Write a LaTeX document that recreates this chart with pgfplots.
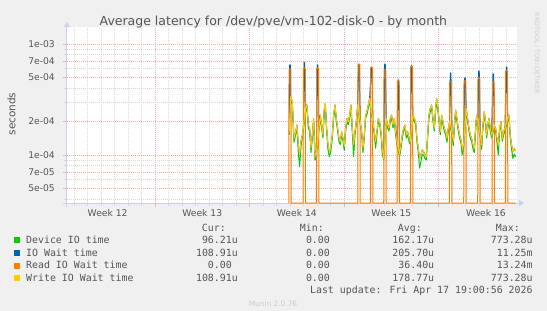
\documentclass[border=0pt]{standalone}
\usepackage{pgfplots}
\pgfplotsset{compat=1.18}
\usepackage{pgfplotstable}
\usepackage{fontspec}
\setmainfont{DejaVu Sans}
\newfontfamily\monofont{DejaVu Sans Mono}
\definecolor{bg}{HTML}{F0F0F0}
\definecolor{txt}{HTML}{555555}
\definecolor{mgrid}{HTML}{F0B0B0}
\definecolor{mingrid}{HTML}{D8D8D8}
\definecolor{axcol}{RGB}{204,208,240}
\definecolor{cdev}{HTML}{00CC00}
\definecolor{ciow}{HTML}{0066B3}
\definecolor{crd}{HTML}{FF8000}
\definecolor{cwr}{HTML}{FFCC00}
\definecolor{faint}{HTML}{CCCCCC}

% x = days since Monday of week 12; y = seconds
\pgfplotstableread{
d w dev
16.94 1.62e-4 1.52e-4
17.044 3.35e-4 3.15e-4
17.168 3.02e-4 2.84e-4
17.291 1.41e-4 1.30e-4
17.414 1.62e-4 1.52e-4
17.513 1.86e-4 1.75e-4
17.612 1.23e-4 1.05e-4
17.710 1.00e-4 7.85e-5
17.809 1.32e-4 1.20e-4
17.908 1.51e-4 1.42e-4
18.007 1.86e-4 1.75e-4
18.155 2.63e-4 2.47e-4
18.253 2.82e-4 2.65e-4
18.352 1.86e-4 1.75e-4
18.451 1.74e-4 1.64e-4
18.549 1.15e-4 1.05e-4
18.648 1.51e-4 1.42e-4
18.747 2.14e-4 2.01e-4
18.845 9.65e-5 9.00e-5
18.944 1.03e-4 9.50e-5
19.141 1.74e-4 1.64e-4
19.240 2.29e-4 2.15e-4
19.339 1.86e-4 1.75e-4
19.437 1.51e-4 1.42e-4
19.536 2.63e-4 2.47e-4
19.610 2.92e-4 2.74e-4
19.709 1.74e-4 1.64e-4
19.807 1.23e-4 1.12e-4
19.906 1.07e-4 9.65e-5
20.005 1.15e-4 1.05e-4
20.128 1.51e-4 1.42e-4
20.227 2.29e-4 2.15e-4
20.326 2.82e-4 2.65e-4
20.424 2.14e-4 2.01e-4
20.523 1.74e-4 1.64e-4
20.622 1.41e-4 1.33e-4
20.720 1.32e-4 1.24e-4
20.819 1.62e-4 1.52e-4
20.918 1.41e-4 1.33e-4
21.016 1.19e-4 1.10e-4
21.115 1.74e-4 1.64e-4
21.214 2.14e-4 2.01e-4
21.312 2.00e-4 1.88e-4
21.411 2.29e-4 2.15e-4
21.510 2.82e-4 2.65e-4
21.608 1.74e-4 1.60e-4
21.707 1.23e-4 9.65e-5
21.806 1.62e-4 1.52e-4
21.904 2.00e-4 1.88e-4
22.003 2.82e-4 2.65e-4
22.200 2.00e-4 1.88e-4
22.299 1.62e-4 1.52e-4
22.398 1.15e-4 1.05e-4
22.496 1.51e-4 1.42e-4
22.595 2.29e-4 2.15e-4
22.694 2.46e-4 2.31e-4
22.793 2.82e-4 2.65e-4
22.891 3.24e-4 3.05e-4
23.138 2.00e-4 1.88e-4
23.237 1.62e-4 1.52e-4
23.335 1.32e-4 1.15e-4
23.434 1.62e-4 1.52e-4
23.533 2.14e-4 2.01e-4
23.631 2.00e-4 1.88e-4
23.730 1.62e-4 1.52e-4
23.829 1.15e-4 1.02e-4
23.927 9.30e-5 9.00e-5
24.124 2.14e-4 2.01e-4
24.223 1.86e-4 1.75e-4
24.322 1.74e-4 1.64e-4
24.421 2.14e-4 2.01e-4
24.519 2.29e-4 2.15e-4
24.618 1.86e-4 1.75e-4
24.717 2.14e-4 2.01e-4
24.815 1.62e-4 1.52e-4
24.914 1.32e-4 1.22e-4
25.111 1.03e-4 9.65e-5
25.210 1.23e-4 1.14e-4
25.309 1.51e-4 1.42e-4
25.408 1.74e-4 1.64e-4
25.506 1.86e-4 1.75e-4
25.605 1.51e-4 1.42e-4
25.704 1.62e-4 1.52e-4
25.802 1.41e-4 1.33e-4
25.901 1.32e-4 1.24e-4
26.098 2.29e-4 2.15e-4
26.197 2.14e-4 2.01e-4
26.296 2.00e-4 1.88e-4
26.394 1.41e-4 1.33e-4
26.493 1.15e-4 1.05e-4
26.592 9.30e-5 7.60e-5
26.690 1.00e-4 8.70e-5
26.789 1.11e-4 1.02e-4
26.888 1.07e-4 9.90e-5
26.986 1.00e-4 9.30e-5
27.085 9.65e-5 9.00e-5
27.184 1.51e-4 1.42e-4
27.282 2.29e-4 2.15e-4
27.381 2.63e-4 2.47e-4
27.480 2.82e-4 2.65e-4
27.578 2.14e-4 2.01e-4
27.677 1.74e-4 1.64e-4
27.776 2.63e-4 2.47e-4
27.850 3.24e-4 3.05e-4
27.924 2.82e-4 2.65e-4
28.022 2.14e-4 2.01e-4
28.121 1.62e-4 1.52e-4
28.220 2.29e-4 2.15e-4
28.318 2.00e-4 1.88e-4
28.417 1.74e-4 1.64e-4
28.516 1.62e-4 1.52e-4
28.615 1.41e-4 1.30e-4
28.713 1.74e-4 1.64e-4
28.812 2.00e-4 1.88e-4
28.985 1.62e-4 1.52e-4
29.083 1.32e-4 1.22e-4
29.182 2.00e-4 1.88e-4
29.256 2.54e-4 2.39e-4
29.355 2.14e-4 2.01e-4
29.453 1.74e-4 1.64e-4
29.552 1.51e-4 1.42e-4
29.651 1.36e-4 1.28e-4
29.749 1.15e-4 1.00e-4
29.848 1.23e-4 1.14e-4
30.045 2.63e-4 2.47e-4
30.144 2.14e-4 2.01e-4
30.243 1.74e-4 1.64e-4
30.342 1.51e-4 1.42e-4
30.440 1.41e-4 1.33e-4
30.539 1.23e-4 1.14e-4
30.638 1.15e-4 1.05e-4
30.736 1.74e-4 1.64e-4
30.810 2.29e-4 2.15e-4
30.909 2.00e-4 1.88e-4
31.081 1.51e-4 1.42e-4
31.180 1.23e-4 1.12e-4
31.279 1.86e-4 1.75e-4
31.378 2.46e-4 2.31e-4
31.476 2.00e-4 1.88e-4
31.550 1.51e-4 1.42e-4
31.649 1.86e-4 1.75e-4
31.723 2.14e-4 2.01e-4
31.822 1.74e-4 1.64e-4
31.920 1.51e-4 1.42e-4
32.117 1.86e-4 1.75e-4
32.216 1.74e-4 1.64e-4
32.315 1.41e-4 1.30e-4
32.414 1.23e-4 1.00e-4
32.512 1.74e-4 1.64e-4
32.611 2.00e-4 1.88e-4
32.710 1.41e-4 1.33e-4
32.808 1.62e-4 1.52e-4
32.907 1.74e-4 1.64e-4
33.104 2.14e-4 2.01e-4
33.203 2.29e-4 2.15e-4
33.302 1.51e-4 1.42e-4
33.400 1.23e-4 1.12e-4
33.499 1.07e-4 9.30e-5
33.598 1.15e-4 1.02e-4
33.697 1.09e-4 9.62e-5
}\band

\pgfplotstableread{
d iow
16.94 1.62e-4
16.975 6.47e-4
17.015 6.47e-4
17.044 3.35e-4
17.168 3.02e-4
17.291 1.41e-4
17.414 1.62e-4
17.513 1.86e-4
17.612 1.23e-4
17.710 1.00e-4
17.809 1.32e-4
17.908 1.51e-4
18.007 1.86e-4
18.036 6.84e-4
18.076 6.84e-4
18.155 2.63e-4
18.253 2.82e-4
18.352 1.86e-4
18.451 1.74e-4
18.549 1.15e-4
18.648 1.51e-4
18.747 2.14e-4
18.845 9.65e-5
18.944 1.03e-4
19.023 6.47e-4
19.063 6.47e-4
19.141 1.74e-4
19.240 2.29e-4
19.339 1.86e-4
19.437 1.51e-4
19.536 2.63e-4
19.610 2.92e-4
19.709 1.74e-4
19.807 1.23e-4
19.906 1.07e-4
20.005 1.15e-4
20.128 1.51e-4
20.227 2.29e-4
20.326 2.82e-4
20.424 2.14e-4
20.523 1.74e-4
20.622 1.41e-4
20.720 1.32e-4
20.819 1.62e-4
20.918 1.41e-4
21.016 1.19e-4
21.115 1.74e-4
21.214 2.14e-4
21.312 2.00e-4
21.411 2.29e-4
21.510 2.82e-4
21.608 1.74e-4
21.707 1.23e-4
21.806 1.62e-4
21.904 2.00e-4
22.003 2.82e-4
22.082 6.60e-4
22.122 6.60e-4
22.200 2.00e-4
22.299 1.62e-4
22.398 1.15e-4
22.496 1.51e-4
22.595 2.29e-4
22.694 2.46e-4
22.793 2.82e-4
22.891 3.24e-4
23.019 6.20e-4
23.059 6.20e-4
23.138 2.00e-4
23.237 1.62e-4
23.335 1.32e-4
23.434 1.62e-4
23.533 2.14e-4
23.631 2.00e-4
23.730 1.62e-4
23.829 1.15e-4
23.927 9.30e-5
24.006 6.60e-4
24.046 6.60e-4
24.124 2.14e-4
24.223 1.86e-4
24.322 1.74e-4
24.421 2.14e-4
24.519 2.29e-4
24.618 1.86e-4
24.717 2.14e-4
24.815 1.62e-4
24.914 1.32e-4
24.993 4.74e-4
25.033 4.74e-4
25.111 1.03e-4
25.210 1.23e-4
25.309 1.51e-4
25.408 1.74e-4
25.506 1.86e-4
25.605 1.51e-4
25.704 1.62e-4
25.802 1.41e-4
25.901 1.32e-4
25.980 6.37e-4
26.020 6.37e-4
26.098 2.29e-4
26.197 2.14e-4
26.296 2.00e-4
26.394 1.41e-4
26.493 1.15e-4
26.592 9.30e-5
26.690 1.00e-4
26.789 1.11e-4
26.888 1.07e-4
26.986 1.00e-4
27.085 9.65e-5
27.184 1.51e-4
27.282 2.29e-4
27.381 2.63e-4
27.480 2.82e-4
27.578 2.14e-4
27.677 1.74e-4
27.776 2.63e-4
27.850 3.24e-4
27.924 2.82e-4
28.022 2.14e-4
28.121 1.62e-4
28.220 2.29e-4
28.318 2.00e-4
28.417 1.74e-4
28.516 1.62e-4
28.615 1.41e-4
28.713 1.74e-4
28.812 2.00e-4
28.866 5.48e-4
28.906 5.48e-4
28.985 1.62e-4
29.083 1.32e-4
29.182 2.00e-4
29.256 2.54e-4
29.355 2.14e-4
29.453 1.74e-4
29.552 1.51e-4
29.651 1.36e-4
29.749 1.15e-4
29.848 1.23e-4
29.927 4.94e-4
29.967 4.94e-4
30.045 2.63e-4
30.144 2.14e-4
30.243 1.74e-4
30.342 1.51e-4
30.440 1.41e-4
30.539 1.23e-4
30.638 1.15e-4
30.736 1.74e-4
30.810 2.29e-4
30.909 2.00e-4
30.963 5.71e-4
31.003 5.71e-4
31.081 1.51e-4
31.180 1.23e-4
31.279 1.86e-4
31.378 2.46e-4
31.476 2.00e-4
31.550 1.51e-4
31.649 1.86e-4
31.723 2.14e-4
31.822 1.74e-4
31.920 1.51e-4
32.024 5.37e-4
32.064 5.37e-4
32.117 1.86e-4
32.216 1.74e-4
32.315 1.41e-4
32.414 1.23e-4
32.512 1.74e-4
32.611 2.00e-4
32.710 1.41e-4
32.808 1.62e-4
32.907 1.74e-4
33.011 6.20e-4
33.051 6.20e-4
33.104 2.14e-4
33.203 2.29e-4
33.302 1.51e-4
33.400 1.23e-4
33.499 1.07e-4
33.598 1.15e-4
33.697 1.09e-4
}\iowtab

% read wait: 0 most of the time, drawn on the floor of the log axis (3.69e-5)
\pgfplotstableread{
d rd
16.905 3.69e-5
16.925 5.92e-4
17.065 5.92e-4
17.085 3.69e-5
17.966 3.69e-5
17.986 6.04e-4
18.126 6.04e-4
18.146 3.69e-5
18.953 3.69e-5
18.973 6.04e-4
19.113 6.04e-4
19.133 3.69e-5
22.012 3.69e-5
22.032 6.56e-4
22.172 6.56e-4
22.192 3.69e-5
22.949 3.69e-5
22.969 6.17e-4
23.109 6.17e-4
23.129 3.69e-5
23.936 3.69e-5
23.956 5.83e-4
24.096 5.83e-4
24.116 3.69e-5
24.923 3.69e-5
24.943 4.64e-4
25.083 4.64e-4
25.103 3.69e-5
25.910 3.69e-5
25.930 6.24e-4
26.070 6.24e-4
26.090 3.69e-5
28.796 3.69e-5
28.816 4.55e-4
28.956 4.55e-4
28.976 3.69e-5
29.857 3.69e-5
29.877 4.64e-4
30.017 4.64e-4
30.037 3.69e-5
30.893 3.69e-5
30.913 4.94e-4
31.053 4.94e-4
31.073 3.69e-5
31.954 3.69e-5
31.974 4.55e-4
32.114 4.55e-4
32.134 3.69e-5
32.941 3.69e-5
32.961 5.71e-4
33.101 5.71e-4
33.121 3.69e-5
33.700 3.69e-5
}\rdtab

\newcommand\lfont{\monofont\fontsize{9.9}{12}\selectfont}

\begin{document}
\begin{tikzpicture}[x=1pt,y=1pt]
\fill[bg] (0,0) rectangle (547,311);
\useasboundingbox (0,0) rectangle (547,311);
\begin{axis}[
  at={(67pt,108pt)}, anchor=south west,
  scale only axis, width=450pt, height=176pt,
  xmin=0.49, xmax=33.8,
  ymode=log, ymin=3.69e-5, ymax=1.422e-3,
  axis background/.style={fill=white},
  axis line style={draw=none},
  clip=false,
  xtick={7,14,21,28}, xticklabels={,,,},
  minor xtick={1,2,...,33},
  extra x ticks={3.5,10.5,17.5,24.5,31.5},
  extra x tick labels={Week 12,Week 13,Week 14,Week 15,Week 16},
  extra x tick style={grid=none, major tick length=0pt},
  ytick={5e-5,7e-5,1e-4,2e-4,5e-4,7e-4,1e-3},
  yticklabels={5e-05,7e-05,1e-04,2e-04,5e-04,7e-04,1e-03},
  minor ytick={4e-5,6e-5,8e-5,9e-5,3e-4,4e-4,6e-4,8e-4,9e-4},
  grid=both,
  major grid style={mgrid, line width=0.7pt, dash pattern=on 1pt off 1pt},
  minor grid style={mingrid, line width=0.7pt, dash pattern=on 1pt off 1pt},
  tick align=outside, xtick pos=left, ytick pos=left,
  major tick length=4pt, minor tick length=3pt,
  every major tick/.append style={mgrid, line width=0.7pt},
  every minor tick/.append style={mingrid, line width=0.7pt},
  tick label style={font=\fontsize{9.2}{11}\selectfont, text=txt},
  yticklabel style={anchor=east, inner sep=0pt, xshift=-8pt},
  xticklabel style={anchor=base, inner sep=0pt, yshift=-13.7pt},
]
\draw[axcol, line width=1pt] ([xshift=-4pt]rel axis cs:0,0) -- ([xshift=2pt]rel axis cs:1,0);
\fill[axcol] ([xshift=2pt,yshift=-3.3pt]rel axis cs:1,0) -- ([xshift=7pt]rel axis cs:1,0) -- ([xshift=2pt,yshift=3.3pt]rel axis cs:1,0) -- cycle;
\draw[axcol, line width=1pt] ([yshift=-4pt]rel axis cs:0,0) -- (rel axis cs:0,1);
\fill[axcol] ([xshift=-3pt]rel axis cs:0,1) -- ([yshift=5pt]rel axis cs:0,1) -- ([xshift=3pt]rel axis cs:0,1) -- cycle;
\addplot[cdev, line width=1pt, line join=round] table[x=d, y=dev] {\band};
\addplot[ciow, line width=1pt, line join=round] table[x=d, y=iow] {\iowtab};
\addplot[crd, line width=1pt, line join=round] table[x=d, y=rd] {\rdtab};
\addplot[cwr, line width=1pt, line join=round] table[x=d, y=w] {\band};
\end{axis}
% title, labels
\node[anchor=base, inner sep=0pt, text=txt, font=\fontsize{12.5}{15}\selectfont] at (273.4,285.9) {Average latency for /dev/pve/vm-102-disk-0 - by month};
\node[rotate=90, inner sep=0pt, text=txt, font=\fontsize{10.5}{12}\selectfont] at (11.5,197) {seconds};
\node[rotate=-90, inner sep=0pt, text=faint, font=\fontsize{6.3}{7}\selectfont] at (537,257.5) {RRDTOOL / TOBI OETIKER};
% legend
\begin{scope}[every node/.style={inner sep=0pt, text=txt, font=\lfont}]
\node[anchor=base east] at (226,79.7) {Cur:};
\node[anchor=base east] at (324,79.7) {Min:};
\node[anchor=base east] at (422,79.7) {Avg:};
\node[anchor=base east] at (520,79.7) {Max:};
\fill[cdev] (14,67.6) rectangle (19.8,73.6);
\fill[ciow] (14,55.0) rectangle (19.8,61.0);
\fill[crd] (14,42.4) rectangle (19.8,48.4);
\fill[cwr] (14,30.2) rectangle (19.8,36.2);
\node[anchor=base west] at (26,67.3) {Device IO time};
\node[anchor=base west] at (26,54.7) {IO Wait time};
\node[anchor=base west] at (26,42.1) {Read IO Wait time};
\node[anchor=base west] at (26,29.9) {Write IO Wait time};
\node[anchor=base east] at (238,67.3) {96.21u};
\node[anchor=base east] at (238,54.7) {108.91u};
\node[anchor=base east] at (238,42.1) {0.00\phantom{0}};
\node[anchor=base east] at (238,29.9) {108.91u};
\node[anchor=base east] at (336,67.3) {0.00\phantom{0}};
\node[anchor=base east] at (336,54.7) {0.00\phantom{0}};
\node[anchor=base east] at (336,42.1) {0.00\phantom{0}};
\node[anchor=base east] at (336,29.9) {0.00\phantom{0}};
\node[anchor=base east] at (434.4,67.3) {162.17u};
\node[anchor=base east] at (434.4,54.7) {205.70u};
\node[anchor=base east] at (434.4,42.1) {36.40u};
\node[anchor=base east] at (434.4,29.9) {178.77u};
\node[anchor=base east] at (532.8,67.3) {773.28u};
\node[anchor=base east] at (532.8,54.7) {11.25m};
\node[anchor=base east] at (532.8,42.1) {13.24m};
\node[anchor=base east] at (532.8,29.9) {773.28u};
\node[anchor=base east] at (532.8,17.0) {Last update: Fri Apr 17 19:00:56 2026};
\end{scope}
\node[anchor=base, inner sep=0pt, text=faint, font=\fontsize{7.4}{9}\selectfont] at (273,4) {Munin 2.0.76};
\end{tikzpicture}
\end{document}
